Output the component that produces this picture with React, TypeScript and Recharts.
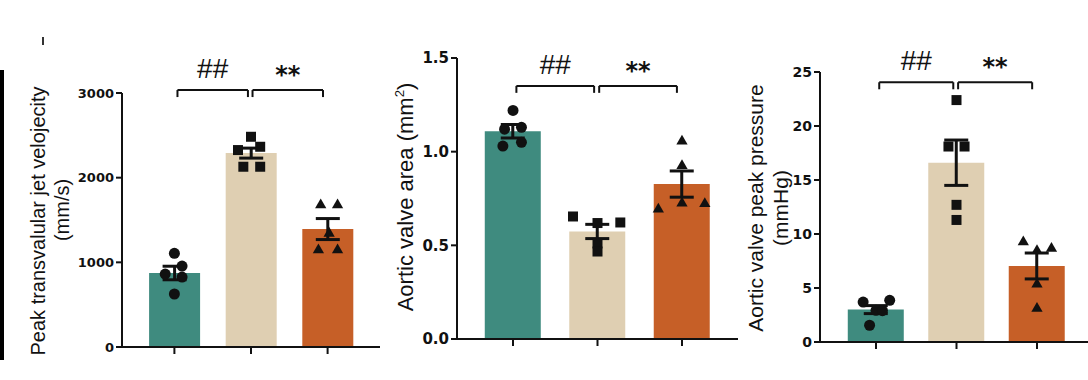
import React from "react";
import {
  Bar,
  Cell,
  ComposedChart,
  ErrorBar,
  ReferenceLine,
  Scatter,
  Symbols,
  XAxis,
  YAxis,
} from "recharts";

const groups = [0, 1, 2];
const barColors = ["#3F8B7F", "#DFCFB2", "#C65F27"];
const markers = ["circle", "square", "triangle"] as const;
const markerSize: Record<string, number> = { circle: 95, square: 100, triangle: 55 };
const sigLabels = ["##", "**"];
const bracketSpans = [
  [0.04, 0.96],
  [1.02, 1.94],
];

// peak transvalvular jet velocity (mm/s)
const velocityMeans = [874, 2290, 1393];
const velocitySem = [80, 59, 124];
const velocityPoints = [
  [1106, 956, 862, 826, 626],
  [2483, 2326, 2365, 2129, 2129],
  [1676, 1676, 1342, 1145, 1145],
];
const velocityJitter = [
  [0, 0.1, -0.12, 0.1, 0],
  [0, -0.17, 0.12, -0.1, 0.12],
  [-0.09, 0.13, 0.02, -0.12, 0.13],
];
const velocityTicks = [0, 1000, 2000, 3000];

// aortic valve area (mm2)
const areaMeans = [1.109, 0.574, 0.827];
const areaSem = [0.036, 0.038, 0.07];
const areaPoints = [
  [1.22, 1.12, 1.13, 1.03, 1.05],
  [0.654, 0.619, 0.622, 0.51, 0.467],
  [1.055, 0.925, 0.693, 0.725, 0.722],
];
const areaJitter = [
  [0, -0.1, 0.1, -0.12, 0.1],
  [-0.29, 0, 0.27, 0, 0],
  [0, 0, -0.28, 0, 0.27],
];
const areaTicks = [0, 0.5, 1, 1.5];

// aortic valve peak pressure (mmHg)
const pressureMeans = [3.0, 16.6, 7.04];
const pressureSem = [0.37, 2.1, 1.2];
const pressurePoints = [
  [3.7, 3.86, 1.55, 2.93, 2.9],
  [22.4, 18.1, 18.1, 12.7, 11.3],
  [9.26, 8.65, 8.45, 5.35, 3.1],
];
const pressureJitter = [
  [-0.16, 0.17, -0.08, 0, 0.08],
  [0, -0.1, 0.1, 0, 0],
  [-0.17, 0.18, 0, 0, 0],
];
const pressureTicks = [0, 5, 10, 15, 20, 25];

const INK = "#111";

interface PanelProps {
  left: number;
  width: number;
  yWidth: number;
  top: number;
  xHeight: number;
  xPad: number;
  barSize: number;
  tickFont: number;
  means: number[];
  sem: number[];
  points: number[][];
  jitter: number[][];
  ticks: number[];
  fmt?: (v: number) => string;
  bracketY: number;
  bracketDrop: number;
}

function Panel(p: PanelProps) {
  const data = groups.map((g) => ({ x: g, v: p.means[g], err: p.sem[g] }));
  const yMax = p.ticks[p.ticks.length - 1];
  const xDomain = [-p.xPad, 2 + p.xPad];
  return (
    <div style={{ position: "absolute", left: p.left, top: 0 }}>
      <ComposedChart
        width={p.width}
        height={380}
        data={data}
        margin={{ top: p.top, right: 0, bottom: 0, left: 0 }}
      >
        <XAxis
          dataKey="x"
          type="number"
          domain={xDomain}
          allowDataOverflow
          ticks={[0, 1, 2]}
          tickFormatter={() => ""}
          height={p.xHeight}
          tickSize={7}
          axisLine={{ stroke: INK, strokeWidth: 2 }}
          tickLine={{ stroke: INK, strokeWidth: 2 }}
        />
        {/* separate hidden axis for the jittered points so the bar band stays one group wide */}
        <XAxis xAxisId="pts" dataKey="x" type="number" domain={xDomain} allowDataOverflow hide />
        <YAxis
          dataKey="v"
          type="number"
          domain={[0, yMax]}
          allowDataOverflow
          ticks={p.ticks}
          tickFormatter={p.fmt}
          width={p.yWidth}
          tickSize={6}
          tickMargin={2}
          axisLine={{ stroke: INK, strokeWidth: 2 }}
          tickLine={{ stroke: INK, strokeWidth: 2 }}
          tick={{
            fill: INK,
            fontSize: p.tickFont,
            fontWeight: "bold",
            fontFamily: "DejaVu Sans, sans-serif",
          }}
        />
        <Bar dataKey="v" barSize={p.barSize} isAnimationActive={false}>
          {data.map((d, i) => (
            <Cell key={i} fill={barColors[i]} />
          ))}
          <ErrorBar dataKey="err" width={12} strokeWidth={3} stroke={INK} direction="y" />
        </Bar>
        {groups.map((g) => (
          <Scatter
            key={g}
            xAxisId="pts"
            dataKey="v"
            data={p.points[g].map((v, j) => ({ x: g + p.jitter[g][j], v }))}
            isAnimationActive={false}
            shape={(s: any) => (
              <Symbols
                cx={s.cx}
                cy={s.cy}
                type={markers[g]}
                size={markerSize[markers[g]]}
                fill={INK}
              />
            )}
          />
        ))}
        {bracketSpans.map(([a, b], i) => (
          <ReferenceLine
            key={"h" + i}
            segment={[
              { x: a, y: p.bracketY },
              { x: b, y: p.bracketY },
            ]}
            ifOverflow="visible"
            stroke={INK}
            strokeWidth={2}
            label={{
              value: sigLabels[i],
              position: "top",
              offset: i === 0 ? 12 : 7,
              fill: INK,
              fontSize: i === 0 ? 28 : 24,
              fontWeight: i === 0 ? "normal" : "bold",
              fontFamily: i === 0 ? "Liberation Sans, Arial" : "DejaVu Sans, sans-serif",
            }}
          />
        ))}
        {bracketSpans.flat().map((x, i) => (
          <ReferenceLine
            key={"v" + i}
            segment={[
              { x, y: p.bracketY },
              { x, y: p.bracketY - p.bracketDrop },
            ]}
            ifOverflow="visible"
            stroke={INK}
            strokeWidth={2}
          />
        ))}
      </ComposedChart>
    </div>
  );
}

function Title({ x, y, size, children }: { x: number; y: number; size: number; children: React.ReactNode }) {
  return (
    <div
      style={{
        position: "absolute",
        left: x,
        top: y,
        transform: "translate(-50%, -50%) rotate(-90deg)",
        fontFamily: '"Liberation Sans", Arial, sans-serif',
        fontSize: size,
        lineHeight: 1,
        whiteSpace: "nowrap",
        color: INK,
      }}
    >
      {children}
    </div>
  );
}

export default function App() {
  return (
    <div
      style={{
        position: "absolute",
        left: 0,
        top: 0,
        width: 1088,
        height: 380,
        overflow: "hidden",
        background: "#fff",
      }}
    >
      <div style={{ position: "absolute", left: 0, top: 70, width: 4, height: 290, background: "#000" }} />
      <div style={{ position: "absolute", left: 42, top: 37, width: 1.5, height: 8, background: "#333" }} />

      <Panel
        left={0}
        width={380}
        yWidth={122}
        top={93}
        xHeight={33}
        xPad={0.684}
        barSize={51}
        tickFont={13}
        means={velocityMeans}
        sem={velocitySem}
        points={velocityPoints}
        jitter={velocityJitter}
        ticks={velocityTicks}
        bracketY={3035}
        bracketDrop={83}
      />
      <Panel
        left={360}
        width={378}
        yWidth={97}
        top={58}
        xHeight={41}
        xPad={0.663}
        barSize={56}
        tickFont={15}
        means={areaMeans}
        sem={areaSem}
        points={areaPoints}
        jitter={areaJitter}
        ticks={areaTicks}
        fmt={(v) => v.toFixed(1)}
        bracketY={1.351}
        bracketDrop={0.037}
      />
      <Panel
        left={740}
        width={353}
        yWidth={80}
        top={72}
        xHeight={38}
        xPad={0.696}
        barSize={56}
        tickFont={14}
        means={pressureMeans}
        sem={pressureSem}
        points={pressurePoints}
        jitter={pressureJitter}
        ticks={pressureTicks}
        bracketY={24.05}
        bracketDrop={0.65}
      />

      <Title x={38} y={221} size={20}>Peak transvalular jet velojecity</Title>
      <Title x={62} y={210} size={20}>(mm/s)</Title>
      <Title x={405} y={197} size={22}>
        Aortic valve area (mm<sup style={{ fontSize: "0.6em" }}>2</sup>)
      </Title>
      <Title x={755} y={208} size={21}>Aortic valve peak pressure</Title>
      <Title x={780} y={208} size={21}>(mmHg)</Title>
    </div>
  );
}
